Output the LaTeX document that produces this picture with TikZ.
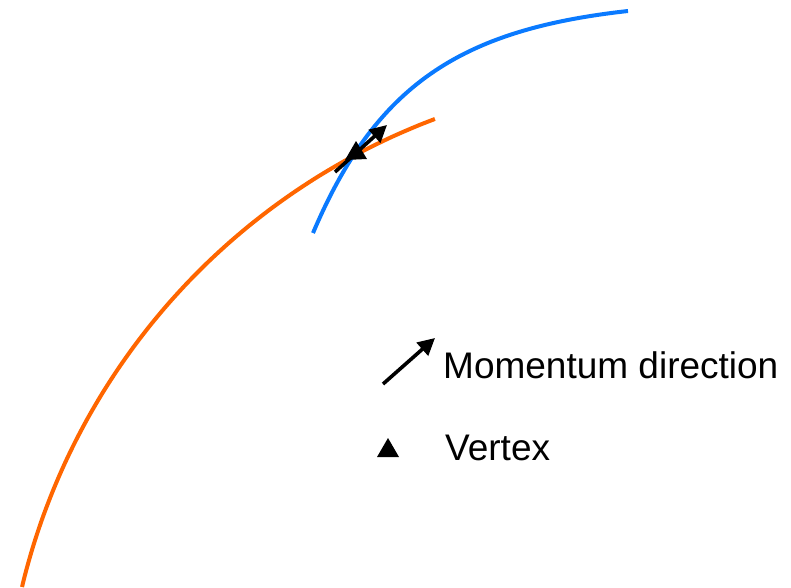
\documentclass[tikz,border=0pt]{standalone}
\usepackage{fontspec}
\setmainfont{Liberation Sans}
\usetikzlibrary{arrows.meta}
\definecolor{trkorange}{RGB}{255,102,0}
\definecolor{trkblue}{RGB}{10,122,255}
\begin{document}
\begin{tikzpicture}[x=1pt,y=-1pt,
  track/.style={line width=4pt},
  momarrow/.style={line width=3.6pt,-{Triangle[length=17pt,width=17pt]}},
  vtx/.style={fill=black},
  legendtext/.style={anchor=base west,inner sep=0pt,font=\fontsize{37}{40}\selectfont}]
\useasboundingbox (0,0) rectangle (791,587);
% orange track (circular arc)
\draw[track,trkorange] plot[domain=-166.54:-110.62,samples=80,smooth]
  ({669.3+665.6*cos(\x)},{741.9+665.6*sin(\x)});
% blue track
\coordinate (ba) at (313,233);
\coordinate (bb) at (628,11);
\draw[track,trkblue] (ba) .. controls (375.6,85.8) and (459,29.7) .. (bb);
% vertex and momentum at crossing
\coordinate (mt) at (335,172);
\coordinate (mh) at (387,125);
\draw[momarrow] (mt) -- (mh);
\fill[vtx] (356,141) -- (345,160) -- (367,159) -- cycle;
% legend
\coordinate (lt) at (383,384);
\coordinate (lh) at (435,338);
\draw[momarrow] (lt) -- (lh);
\node[legendtext] (mlabel) at (443,378) {Momentum direction};
\fill[vtx] (388,438) -- (377,457) -- (399,457) -- cycle;
\node[legendtext] (vlabel) at (445,460) {Vertex};
\end{tikzpicture}
\end{document}
